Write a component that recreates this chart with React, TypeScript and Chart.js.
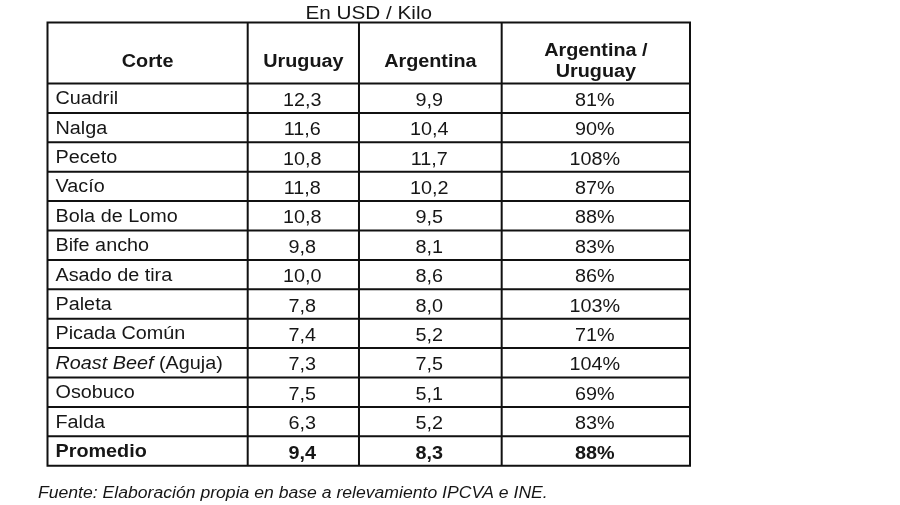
import React, { useEffect, useRef } from "react";
import { Chart, registerables } from "chart.js";

Chart.register(...registerables);

// ---- data ----
const title = "En USD / Kilo";
const footer = "Fuente: Elaboración propia en base a relevamiento IPCVA e INE.";
const headers = ["Corte", "Uruguay", "Argentina", "Argentina /\nUruguay"];
const cortes = [
  "Cuadril",
  "Nalga",
  "Peceto",
  "Vacío",
  "Bola de Lomo",
  "Bife ancho",
  "Asado de tira",
  "Paleta",
  "Picada Común",
  "Roast Beef (Aguja)",
  "Osobuco",
  "Falda",
];
const uruguay = [12.3, 11.6, 10.8, 11.8, 10.8, 9.8, 10.0, 7.8, 7.4, 7.3, 7.5, 6.3];
const argentina = [9.9, 10.4, 11.7, 10.2, 9.5, 8.1, 8.6, 8.0, 5.2, 7.5, 5.1, 5.2];
const ratio = [81, 90, 108, 87, 88, 83, 86, 103, 71, 104, 69, 83];
const promedioLabel = "Promedio";
const promedio = { uruguay: 9.4, argentina: 8.3, ratio: 88 };

// ---- layout (table geometry in scale units) ----
const COL_EDGES = [0, 0.3116, 0.4848, 0.7069, 1];
const HEADER_UNITS = 2.075;
const N_ROWS = cortes.length + 1;
const FONT = "'Liberation Sans', Arial, sans-serif";
const SX = 1.1;
const INK = "#161616";

const fmt1 = (v: number) => v.toFixed(1).replace(".", ",");
const fmtPct = (v: number) => `${v}%`;

function drawText(
  ctx: CanvasRenderingContext2D,
  text: string,
  x: number,
  y: number,
  size: number,
  opts: { weight?: string; style?: string; align?: "left" | "center"; sx?: number } = {}
) {
  const sx = opts.sx ?? SX;
  ctx.save();
  ctx.font = `${opts.style ?? "normal"} ${opts.weight ?? "normal"} ${size}px ${FONT}`;
  ctx.fillStyle = INK;
  ctx.textBaseline = "alphabetic";
  const w = ctx.measureText(text).width * sx;
  const left = opts.align === "center" ? x - w / 2 : x;
  ctx.translate(left, y);
  ctx.scale(sx, 1);
  ctx.textAlign = "left";
  ctx.fillText(text, 0, 0);
  ctx.restore();
  return w;
}

const tablePlugin = {
  id: "tablePlugin",
  afterDatasetsDraw(chart: any) {
    const ctx: CanvasRenderingContext2D = chart.ctx;
    const xs = chart.scales.x;
    const ys = chart.scales.y;
    const area = chart.chartArea;
    const top = ys.getPixelForValue(0);
    const bottom = ys.getPixelForValue(HEADER_UNITS + N_ROWS);
    const left = xs.getPixelForValue(0);
    const right = xs.getPixelForValue(1);

    // grid
    ctx.save();
    ctx.strokeStyle = "#111";
    ctx.lineWidth = 2;
    ctx.beginPath();
    for (let r = 0; r <= N_ROWS; r++) {
      const v = r === 0 ? 0 : HEADER_UNITS + r - 1;
      const y = ys.getPixelForValue(v);
      ctx.moveTo(left - 1, y);
      ctx.lineTo(right + 1, y);
    }
    const yb = ys.getPixelForValue(HEADER_UNITS + N_ROWS);
    ctx.moveTo(left - 1, yb);
    ctx.lineTo(right + 1, yb);
    COL_EDGES.forEach((e) => {
      const x = xs.getPixelForValue(e);
      ctx.moveTo(x, top);
      ctx.lineTo(x, bottom);
    });
    ctx.stroke();
    ctx.restore();

    // title & footer
    drawText(ctx, title, (area.left + area.right) / 2, top - 4, 18.5, { align: "center", sx: 1.12 });
    drawText(ctx, footer, area.left - 9.5, bottom + 32.5, 16, { style: "italic", sx: 1.1 });

    // headers
    const hTop = ys.getPixelForValue(0);
    const hBot = ys.getPixelForValue(HEADER_UNITS);
    headers.forEach((h, i) => {
      const cx = (xs.getPixelForValue(COL_EDGES[i]) + xs.getPixelForValue(COL_EDGES[i + 1])) / 2;
      const lines = h.split("\n");
      if (lines.length === 1) {
        drawText(ctx, lines[0], cx, hTop + 44.5, 18, { weight: "bold", align: "center" });
      } else {
        drawText(ctx, lines[0], cx, hTop + 33, 18, { weight: "bold", align: "center" });
        drawText(ctx, lines[1], cx, hBot - 7, 18, { weight: "bold", align: "center" });
      }
    });

    // row labels
    const labelX = xs.getPixelForValue(0) + 8;
    const allLabels = [...cortes, promedioLabel];
    allLabels.forEach((lab, i) => {
      const cy = ys.getPixelForValue(HEADER_UNITS + i + 0.5);
      const bold = i === cortes.length;
      if (lab.startsWith("Roast Beef")) {
        const w = drawText(ctx, "Roast Beef", labelX, cy + 6, 18, { style: "italic" });
        drawText(ctx, " (Aguja)", labelX + w, cy + 6, 18);
      } else {
        drawText(ctx, lab, labelX, cy + 6, 18, { weight: bold ? "bold" : "normal" });
      }
    });

    // values, positioned by dataset points
    chart.data.datasets.forEach((ds: any, di: number) => {
      const meta = chart.getDatasetMeta(di);
      meta.data.forEach((pt: any, i: number) => {
        const raw = ds.data[i];
        const text = ds.kind === "pct" ? fmtPct(raw.v) : fmt1(raw.v);
        const bold = i === cortes.length;
        drawText(ctx, text, pt.x - 1, pt.y + 7.5, 18, { weight: bold ? "bold" : "normal", align: "center" });
      });
    });
  },
};

function colCenter(i: number) {
  return (COL_EDGES[i] + COL_EDGES[i + 1]) / 2;
}

export default function App() {
  const ref = useRef<HTMLCanvasElement | null>(null);
  useEffect(() => {
    if (!ref.current) return;
    const mk = (vals: number[], avg: number, col: number) =>
      [...vals, avg].map((v, i) => ({ x: colCenter(col), y: HEADER_UNITS + i + 0.5, v }));
    const chart = new Chart(ref.current, {
      type: "scatter",
      data: {
        datasets: [
          { label: "Uruguay", data: mk(uruguay, promedio.uruguay, 1), pointRadius: 0, kind: "num" } as any,
          { label: "Argentina", data: mk(argentina, promedio.argentina, 2), pointRadius: 0, kind: "num" } as any,
          { label: "Argentina / Uruguay", data: mk(ratio, promedio.ratio, 3), pointRadius: 0, kind: "pct" } as any,
        ],
      },
      options: {
        animation: false,
        responsive: true,
        maintainAspectRatio: false,
        layout: { padding: { left: 47.5, top: 22.5, right: 210, bottom: 39.3 } },
        plugins: { legend: { display: false }, tooltip: { enabled: false }, title: { display: false } },
        scales: {
          x: { type: "linear", min: 0, max: 1, display: false },
          y: { type: "linear", min: 0, max: HEADER_UNITS + N_ROWS, reverse: true, display: false },
        },
      },
      plugins: [tablePlugin],
    });
    return () => chart.destroy();
  }, []);
  return (
    <div style={{ position: "fixed", left: 0, top: 0, width: 900, height: 505, background: "#fff" }}>
      <canvas ref={ref} />
    </div>
  );
}
